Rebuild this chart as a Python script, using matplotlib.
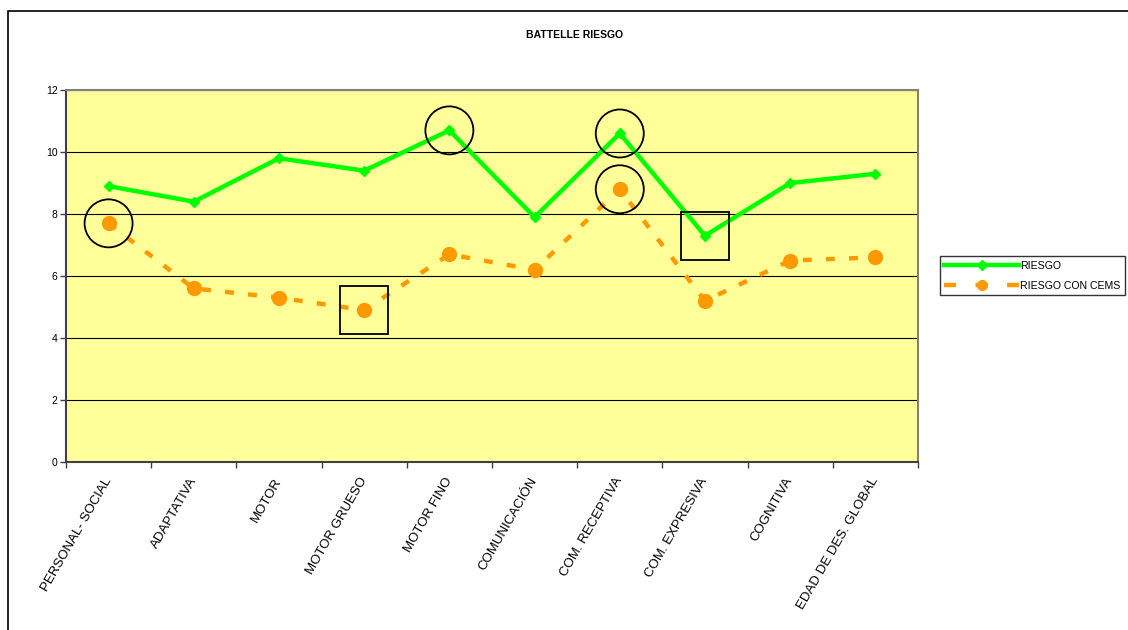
import matplotlib.pyplot as plt
from matplotlib.patches import Ellipse, Rectangle

plt.rcParams['font.family'] = ['Liberation Sans', 'DejaVu Sans']

categories = ['PERSONAL- SOCIAL', 'ADAPTATIVA', 'MOTOR', 'MOTOR GRUESO', 'MOTOR FINO',
              'COMUNICACIÓN', 'COM. RECEPTIVA', 'COM. EXPRESIVA', 'COGNITIVA',
              'EDAD DE DES. GLOBAL']
riesgo = [8.9, 8.4, 9.8, 9.4, 10.7, 7.9, 10.6, 7.3, 9.0, 9.3]
riesgo_cems = [7.7, 5.6, 5.3, 4.9, 6.7, 6.2, 8.8, 5.2, 6.5, 6.6]

# highlighted points: (series, category index)
circled = [(riesgo_cems, 0), (riesgo, 4), (riesgo, 6), (riesgo_cems, 6)]
boxed = [(riesgo_cems, 3), (riesgo, 7)]

fig = plt.figure(figsize=(11.28, 6.30), dpi=100)
ax = fig.add_axes([0.0585, 0.2667, 0.7553, 0.5903])
ax.set_facecolor('#FFFF99')

x = list(range(len(categories)))
ax.plot(x, riesgo, color='#00FF00', lw=3.2, marker='D', ms=5,
        label='RIESGO', zorder=3)
ax.plot(x, riesgo_cems, color='#FF9900', lw=3.2, marker='o', ms=10,
        dashes=(2, 3.2), label='RIESGO CON CEMS', zorder=3)

# circles and squares around selected points
px_x = 85.2   # pixels per category
px_y = 31.0   # pixels per unit
for series, i in circled:
    ax.add_patch(Ellipse((i, series[i]), 48 / px_x, 48 / px_y, fill=False,
                         ec='black', lw=1.3, zorder=4))
for series, i in boxed:
    ax.add_patch(Rectangle((i - 24 / px_x, series[i] - 24 / px_y), 48 / px_x, 48 / px_y,
                           fill=False, ec='black', lw=1.3, zorder=4))

ax.set_xlim(-0.5, len(categories) - 0.5)
ax.set_ylim(0, 12)
ax.set_yticks(range(0, 13, 2))
ax.yaxis.grid(True, color='black', lw=0.8)
ax.set_axisbelow(True)

ax.set_xticks([i - 0.5 for i in range(len(categories) + 1)])
ax.set_xticklabels([])
ax.set_xticks(x, minor=True)
ax.set_xticklabels(categories, minor=True, rotation=60, ha='right', va='center',
                   rotation_mode='anchor', fontsize=9.5)
ax.tick_params(axis='x', which='minor', length=0, pad=12)
ax.tick_params(axis='x', which='major', length=4, width=1, color='#404040')
ax.tick_params(axis='y', length=4, width=1, color='#404040', labelsize=7.5, pad=2)

for side in ['left', 'bottom']:
    ax.spines[side].set_color('#404040')
    ax.spines[side].set_linewidth(1.5)
for side in ['top', 'right']:
    ax.spines[side].set_color('#808080')
    ax.spines[side].set_linewidth(1.5)

fig.text(0.509, 0.944, 'BATTELLE RIESGO', ha='center', va='center',
         fontsize=7.5, fontweight='bold')

leg = fig.legend(loc='center left', bbox_to_anchor=(0.833, 0.562), fontsize=7.6,
                 handlelength=7.1, handletextpad=0.1, borderpad=0.45,
                 labelspacing=0.9, frameon=True, fancybox=False,
                 edgecolor='black', borderaxespad=0)
leg.get_frame().set_linewidth(1)
leg.legend_handles[1].set_markersize(7)
leg.legend_handles[1].set_dashes((2.7, 4.4))

# outer chart border
fig.patches.append(Rectangle((8 / 1128, -0.1), 1.1, 0.1 + (630 - 11) / 630,
                             transform=fig.transFigure, fill=False,
                             ec='black', lw=1.2))

fig.savefig('out.png', dpi=100)
